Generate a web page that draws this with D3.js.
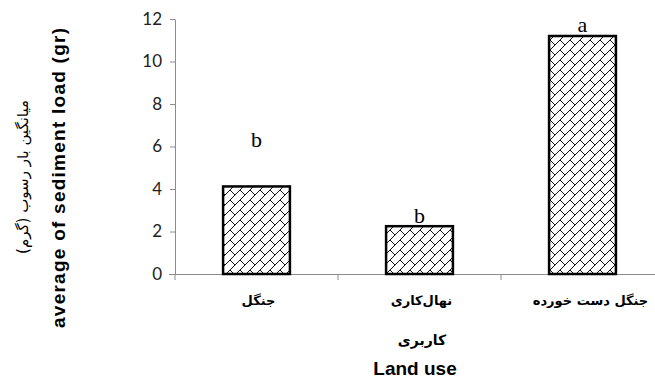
<!DOCTYPE html>
<html>
<head>
<meta charset="utf-8">
<script src="https://cdn.jsdelivr.net/npm/d3@7"></script>
<style>
  html, body { margin: 0; padding: 0; background: #fff; }
  svg { display: block; }
</style>
</head>
<body>
<svg id="chart" width="655" height="379"></svg>
<script>
// Land-use categories (Persian), mean sediment load and significance letters
const categories = ["جنگل", "نهال‌کاری", "جنگل دست خورده"];
const sedimentLoad = [4.12, 2.25, 11.2];
const groupLetters = ["b", "b", "a"];
const letterValues = [6.0, 2.4, 11.38];
const yTicks = [0, 2, 4, 6, 8, 10, 12];

const svg = d3.select("#chart");
const plotLeft = 175, plotRight = 664, plotTop = 19, plotBottom = 274;

const x = d3.scaleBand().domain(categories).range([plotLeft, plotRight]).padding(0);
const y = d3.scaleLinear().domain([0, 12]).range([plotBottom, plotTop]);
const barWidth = x.bandwidth() * 0.41;

// Diagonal brick fill
const s = 10;
const pat = svg.append("defs").append("pattern")
  .attr("id", "brick")
  .attr("patternUnits", "userSpaceOnUse")
  .attr("width", s).attr("height", s);
pat.append("rect").attr("width", s).attr("height", s).attr("fill", "#fff");
pat.append("path")
  .attr("d", `M0,${s} L${s},0 M-1,1 L1,-1 M${s - 1},${s + 1} L${s + 1},${s - 1} M0,0 L${s / 2},${s / 2}`)
  .attr("stroke", "#111").attr("stroke-width", 1).attr("fill", "none");

// Axes
const axisColor = "#8c8c8c";
const yAxis = svg.append("g")
  .attr("transform", `translate(${plotLeft},0)`)
  .call(d3.axisLeft(y).tickValues(yTicks).tickSize(5).tickPadding(8).tickSizeOuter(0));
yAxis.select(".domain").attr("stroke", axisColor);
yAxis.selectAll(".tick line").attr("stroke", axisColor);
yAxis.selectAll(".tick text")
  .attr("font-family", "Lato, 'Open Sans', sans-serif")
  .attr("font-size", 17).attr("fill", "#222");

const xAxis = svg.append("g")
  .attr("transform", `translate(0,${plotBottom})`)
  .call(d3.axisBottom(x).tickSize(0).tickSizeOuter(0).tickFormat(""));
xAxis.select(".domain").attr("stroke", axisColor).attr("d", `M${plotLeft - 6},0.5H${plotRight}`);
xAxis.selectAll(".tick").remove();
// tick marks at category boundaries
xAxis.selectAll("line.sep")
  .data(categories)
  .join("line")
  .attr("class", "sep")
  .attr("x1", d => x(d)).attr("x2", d => x(d))
  .attr("y1", 0).attr("y2", 6)
  .attr("stroke", axisColor);

// Bars
svg.append("g").selectAll("rect")
  .data(categories)
  .join("rect")
  .attr("x", d => x(d) + (x.bandwidth() - barWidth) / 2)
  .attr("width", barWidth)
  .attr("y", (d, i) => y(sedimentLoad[i]))
  .attr("height", (d, i) => plotBottom - y(sedimentLoad[i]))
  .attr("fill", "url(#brick)")
  .attr("stroke", "#000")
  .attr("stroke-width", 2.5);

// Significance letters
svg.append("g").selectAll("text")
  .data(categories)
  .join("text")
  .attr("x", d => x(d) + x.bandwidth() / 2)
  .attr("y", (d, i) => y(letterValues[i]))
  .attr("text-anchor", "middle")
  .attr("font-family", "'Liberation Serif', 'Times New Roman', serif")
  .attr("font-size", 22)
  .attr("fill", "#000")
  .text((d, i) => groupLetters[i]);

// Category labels
svg.append("g").selectAll("text")
  .data(categories)
  .join("text")
  .attr("x", (d, i) => x(d) + x.bandwidth() / 2 + (i === 2 ? 8 : 2))
  .attr("y", 305)
  .attr("text-anchor", "middle")
  .attr("direction", "rtl")
  .attr("font-family", "'DejaVu Sans', sans-serif")
  .attr("font-weight", "bold")
  .attr("font-size", 13)
  .attr("fill", "#000")
  .text(d => d);

// Axis titles
svg.append("text")
  .attr("x", 422).attr("y", 345)
  .attr("text-anchor", "middle")
  .attr("direction", "rtl")
  .attr("font-family", "'DejaVu Sans', sans-serif")
  .attr("font-weight", "bold")
  .attr("font-size", 14)
  .text("کاربری");

svg.append("text")
  .attr("x", 415).attr("y", 375)
  .attr("text-anchor", "middle")
  .attr("font-family", "'Liberation Sans', Arial, sans-serif")
  .attr("font-weight", "bold")
  .attr("font-size", 19)
  .text("Land use");

svg.append("text")
  .attr("transform", "translate(65,178) rotate(-90)")
  .attr("text-anchor", "middle")
  .attr("font-family", "'Liberation Sans', Arial, sans-serif")
  .attr("font-weight", "bold")
  .attr("font-size", 19)
  .attr("textLength", 300)
  .attr("lengthAdjust", "spacing")
  .text("average of sediment  load (gr)");

svg.append("text")
  .attr("transform", "translate(28,177) rotate(-90)")
  .attr("text-anchor", "middle")
  .attr("direction", "rtl")
  .attr("font-family", "'DejaVu Sans', sans-serif")
  .attr("font-size", 15)
  .text("میانگین بار رسوب (گرم)");
</script>
</body>
</html>
